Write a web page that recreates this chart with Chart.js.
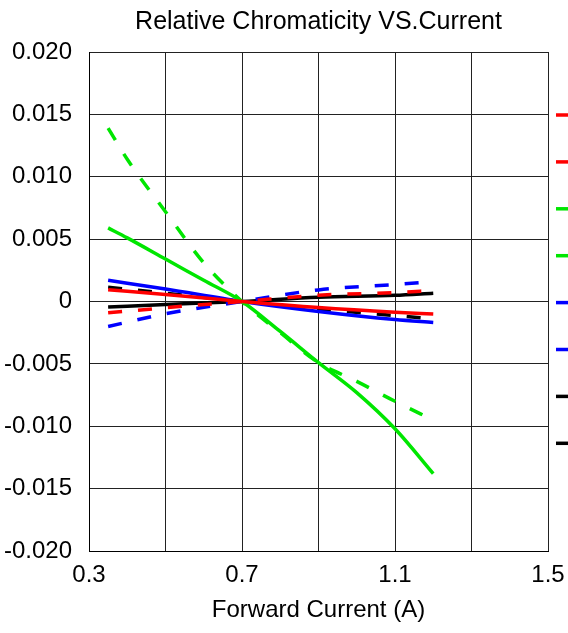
<!DOCTYPE html>
<html>
<head>
<meta charset="utf-8">
<script src="https://cdn.jsdelivr.net/npm/chart.js@4.4.1/dist/chart.umd.min.js"></script>
<style>
  html, body { margin: 0; padding: 0; background: #fff; overflow: hidden; }
  #wrap { width: 568px; height: 633px; }
</style>
</head>
<body>
<div id="wrap"><canvas id="chromaChart"></canvas></div>
<script>
// Forward current (A) where the curves were sampled
const currents = [0.35, 0.5, 0.7, 0.9, 1.1, 1.2];
const greenCurrents = [0.35, 0.4, 0.5, 0.6, 0.7, 0.8, 0.9, 1.0, 1.1, 1.2];

// Relative chromaticity shift
const redSolid   = [0.00094, 0.00056, 0, -0.00049, -0.00086, -0.00100];
const redDash    = [-0.00091, -0.00050, 0, 0.00050, 0.00072, 0.00089];
const greenSolid = [0.0059, 0.0051, 0.0034, 0.0017, 0, -0.0024, -0.0049, -0.0073, -0.0102, -0.0138];
const greenDash  = [0.0139, 0.0114, 0.0072, 0.0031, 0, -0.0025, -0.0049, -0.0064, -0.0080, -0.0095];
const blueSolid  = [0.0017, 0.0010, 0, -0.0008, -0.00145, -0.00168];
const blueDash   = [-0.0020, -0.00098, 0, 0.00093, 0.00136, 0.0016];
const blackSolid = [-0.00044, -0.00024, 0, 0.00035, 0.0005, 0.00067];
const blackDash  = [0.00115, 0.00066, 0, -0.0006, -0.00113, -0.00139];

// axis ticks
const xTicks = [0.3, 0.5, 0.7, 0.9, 1.1, 1.3, 1.5];
const xTickLabels = ['0.3', '', '0.7', '', '1.1', '', '1.5'];
const yTicks = [-0.02, -0.015, -0.01, -0.005, 0, 0.005, 0.01, 0.015, 0.02];
const yTickLabels = ['-0.020', '-0.015', '-0.010', '-0.005', '0', '0.005', '0.010', '0.015', '0.020'];

const FONT = "'Liberation Sans', Arial, sans-serif";

function series(label, xs, values, color, dashed) {
    return {
        label: label,
        data: xs.map((x, i) => ({ x: x, y: values[i] })),
        borderColor: color,
        backgroundColor: color,
        borderWidth: 3.5,
        borderDash: dashed ? [14, 16] : [],
        pointRadius: 0,
        fill: false,
        cubicInterpolationMode: 'monotone'
    };
}

// short legend strokes on the right edge (labels run off the page)
const edgeLegend = {
    id: 'edgeLegend',
    afterDraw(chart) {
        const ctx = chart.ctx;
        const area = chart.chartArea;
        chart.data.datasets.forEach((ds, i) => {
            const y = area.top + 63 + i * 46.9;
            ctx.save();
            ctx.strokeStyle = ds.borderColor;
            ctx.lineWidth = 3.5;
            ctx.beginPath();
            ctx.moveTo(area.right + 8, y);
            ctx.lineTo(area.right + 30, y);
            ctx.stroke();
            ctx.restore();
        });
    }
};

const ctx = document.getElementById('chromaChart').getContext('2d');
const chromaChart = new Chart(ctx, {
    type: 'line',
    data: {
        datasets: [
            series('Cx', currents, redSolid, '#ff0000', false),
            series('Cy', currents, redDash, '#ff0000', true),
            series('Cx', greenCurrents, greenSolid, '#00e600', false),
            series('Cy', greenCurrents, greenDash, '#00e600', true),
            series('Cx', currents, blueSolid, '#0000ff', false),
            series('Cy', currents, blueDash, '#0000ff', true),
            series('Cx', currents, blackSolid, '#000000', false),
            series('Cy', currents, blackDash, '#000000', true)
        ]
    },
    options: {
        responsive: true,
        maintainAspectRatio: false,
        animation: false,
        layout: { padding: { left: 0, right: 20, top: 0, bottom: 8 } },
        plugins: {
            legend: { display: false },
            tooltip: { enabled: false },
            title: {
                display: true,
                fullSize: false,
                text: 'Relative Chromaticity VS.Current',
                color: '#000',
                font: { family: FONT, size: 25, weight: 'normal' },
                padding: { top: 7, bottom: 15 }
            }
        },
        scales: {
            x: {
                type: 'linear',
                min: 0.3,
                max: 1.5,
                afterBuildTicks: (scale) => { scale.ticks = xTicks.map(v => ({ value: v })); },
                afterFit: (scale) => {
                    scale.height = 74;
                    scale.paddingLeft = 0;
                    scale.paddingRight = 20;
                },
                ticks: {
                    color: '#000',
                    font: { family: FONT, size: 24 },
                    padding: 10,
                    maxRotation: 0,
                    autoSkip: false,
                    callback: (v, i) => xTickLabels[i]
                },
                grid: { color: '#222', lineWidth: 1, drawTicks: false },
                border: { color: '#000', width: 1 },
                title: {
                    display: true,
                    text: 'Forward Current (A)',
                    color: '#000',
                    font: { family: FONT, size: 24 },
                    padding: { top: 0, bottom: 0 }
                }
            },
            y: {
                type: 'linear',
                min: -0.02,
                max: 0.02,
                afterBuildTicks: (scale) => { scale.ticks = yTicks.map(v => ({ value: v })); },
                afterFit: (scale) => { scale.width = 89; },
                ticks: {
                    color: '#000',
                    font: { family: FONT, size: 24 },
                    padding: 17,
                    autoSkip: false,
                    callback: (v, i) => yTickLabels[i]
                },
                grid: { color: '#222', lineWidth: 1, drawTicks: false },
                border: { color: '#000', width: 1 }
            }
        }
    },
    plugins: [edgeLegend]
});
</script>
</body>
</html>
